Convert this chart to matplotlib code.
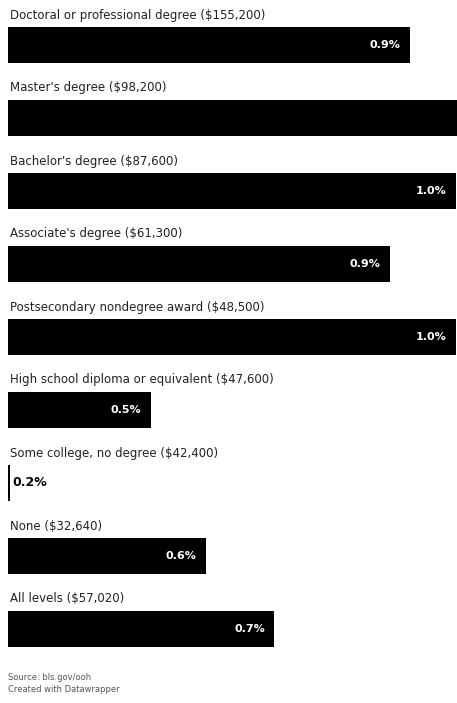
import matplotlib
matplotlib.use("Agg")
import matplotlib.pyplot as plt
import matplotlib.transforms as mtransforms

plt.rcParams['font.family'] = ['DejaVu Sans']

# education level, median wage, share of change
levels = ["Doctoral or professional degree", "Master's degree", "Bachelor's degree",
          "Associate's degree", "Postsecondary nondegree award",
          "High school diploma or equivalent", "Some college, no degree",
          "None", "All levels"]
wages = ["$155,200", "$98,200", "$87,600", "$61,300", "$48,500",
         "$47,600", "$42,400", "$32,640", "$57,020"]
values = [0.893, 1.04, 0.968, 0.86, 0.968, 0.47, 0.24, 0.56, 0.672]
value_labels = ["0.9%", "1.0%", "1.0%", "0.9%", "1.0%", "0.5%", "0.2%", "0.6%", "0.7%"]

W, H = 457, 703
fig = plt.figure(figsize=(W / 100, H / 100), dpi=100)
ax = fig.add_axes([8 / W, 0, 1 - 8 / W, 1])

rows = list(range(len(levels)))
ax.barh(rows, values, height=36 / 73, color='black', left=0)
x0 = 0.2375
x1 = x0 + (W - 8) / 613
ax.set_xlim(x0, x1)
ax.set_ylim((H - 45) / 73, -45 / 73)
ax.axis('off')


def shift(dx):
    # offset in pixels along x
    return ax.transData + mtransforms.ScaledTranslation(dx / 100, 0, fig.dpi_scale_trans)


for i, (lvl, wage, v, lab) in enumerate(zip(levels, wages, values, value_labels)):
    ax.text(x0, i - 30 / 73, f"{lvl} ({wage})", ha='left', va='center',
            fontsize=8.5, color='#222222', transform=shift(2))
    if v > x1:
        # bar runs past the plot edge, its label would be cut
        continue
    if v - x0 > 0.1:
        ax.text(v, i, lab, ha='right', va='center', fontsize=8,
                fontweight='bold', color='white', transform=shift(-9))
    else:
        ax.text(v, i, lab, ha='left', va='center', fontsize=9,
                fontweight='bold', color='black', transform=shift(3))

fig.text(8 / W, 1 - 678 / H, "Source: bls.gov/ooh", fontsize=6,
         color='#555555', va='center')
fig.text(8 / W, 1 - 690 / H, "Created with Datawrapper", fontsize=6,
         color='#555555', va='center')

fig.savefig("out.png", dpi=100, facecolor='white')
